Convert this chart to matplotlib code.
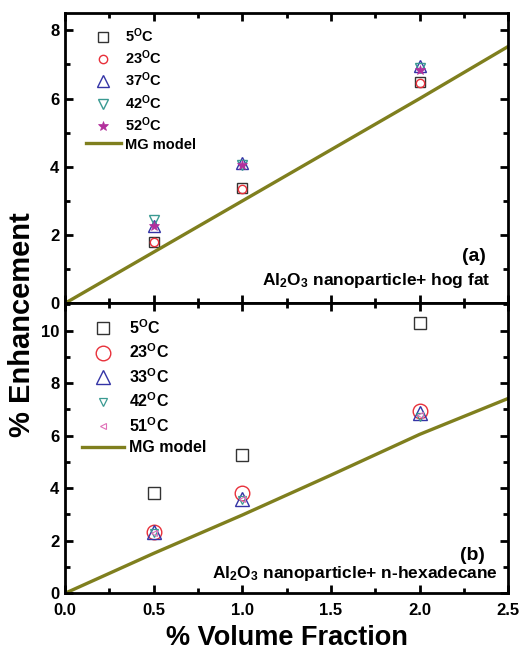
import matplotlib
matplotlib.use("Agg")
import matplotlib.pyplot as plt
from matplotlib.ticker import MultipleLocator

plt.rcParams['font.family'] = ['Liberation Sans', 'DejaVu Sans']
plt.rcParams['font.weight'] = 'bold'
plt.rcParams['mathtext.fontset'] = 'custom'
plt.rcParams['mathtext.rm'] = 'Liberation Sans:bold'
plt.rcParams['mathtext.bf'] = 'Liberation Sans:bold'
plt.rcParams['mathtext.it'] = 'Liberation Sans:bold'
plt.rcParams['mathtext.default'] = 'regular'

# ---- data ----
phi = [0.5, 1.0, 2.0]
mg_x = [0.0, 0.5, 1.0, 1.5, 2.0, 2.5]

# panel (a): Al2O3 + hog fat
a_labels = ['5$^\\mathrm{O}$C', '23$^\\mathrm{O}$C', '37$^\\mathrm{O}$C', '42$^\\mathrm{O}$C', '52$^\\mathrm{O}$C']
a_5 = [1.81, 3.37, 6.50]
a_23 = [1.80, 3.35, 6.45]
a_37 = [2.28, 4.11, 6.96]
a_42 = [2.45, 4.06, 6.90]
a_52 = [2.28, 4.04, 6.83]
a_mg = [0.0, 1.5, 3.0, 4.5, 6.0, 7.53]

# panel (b): Al2O3 + n-hexadecane
b_labels = ['5$^\\mathrm{O}$C', '23$^\\mathrm{O}$C', '33$^\\mathrm{O}$C', '42$^\\mathrm{O}$C', '51$^\\mathrm{O}$C']
b_5 = [3.83, 5.25, 10.28]
b_23 = [2.35, 3.83, 6.95]
b_33 = [2.33, 3.59, 6.85]
b_42 = [2.30, 3.55, 6.72]
b_51 = [2.30, 3.60, 6.80]
b_mg = [0.0, 1.52, 2.98, 4.5, 6.05, 7.42]

xticks = [0.0, 0.5, 1.0, 1.5, 2.0, 2.5]

c_sq = '#333333'
c_ci = '#e8303a'
c_tu = '#3434a6'
c_td = '#3a9a92'
c_st = '#b2309c'
c_lt = '#e070b8'
c_mg = '#7f7f1e'

W, H = 521, 650
fig = plt.figure(figsize=(W / 100, H / 100), dpi=100)
L, R = 65 / W, 508.3 / W
ax1 = fig.add_axes([L, 1 - 303.3 / H, R - L, (303.3 - 13.3) / H])
ax2 = fig.add_axes([L, 1 - 593.3 / H, R - L, (593.3 - 303.3) / H])

# panel (a)
ax1.plot(phi, a_5, ls='none', marker='s', ms=7.2, mfc='none', mec=c_sq, mew=1.0, label=a_labels[0])
ax1.plot(phi, a_23, ls='none', marker='o', ms=6.0, mfc='none', mec=c_ci, mew=1.0, label=a_labels[1])
ax1.plot(phi, a_37, ls='none', marker='^', ms=8.0, mfc='none', mec=c_tu, mew=1.0, label=a_labels[2])
ax1.plot(phi, a_42, ls='none', marker='v', ms=7.0, mfc='none', mec=c_td, mew=1.0, label=a_labels[3])
ax1.plot(phi, a_52, ls='none', marker='*', ms=7.0, mfc=c_st, mec=c_st, mew=0.5, label=a_labels[4])
ax1.plot(mg_x, a_mg, color=c_mg, lw=2.4, label='MG model')

# panel (b)
ax2.plot(phi, b_5, ls='none', marker='s', ms=8.8, mfc='none', mec=c_sq, mew=1.0, label=b_labels[0])
ax2.plot(phi, b_23, ls='none', marker='o', ms=10.5, mfc='none', mec=c_ci, mew=1.0, label=b_labels[1])
ax2.plot(phi, b_33, ls='none', marker='^', ms=9.5, mfc='none', mec=c_tu, mew=1.0, label=b_labels[2])
ax2.plot(phi, b_42, ls='none', marker='v', ms=6.0, mfc='none', mec=c_td, mew=0.9, label=b_labels[3])
ax2.plot(phi, b_51, ls='none', marker='<', ms=4.5, mfc='none', mec=c_lt, mew=0.8, label=b_labels[4])
ax2.plot(mg_x, b_mg, color=c_mg, lw=2.4, label='MG model')

for ax, ylim, ymaj in ((ax1, (0, 8.5), 2), (ax2, (0, 11.04), 2)):
    ax.set_xlim(0, 2.5)
    ax.set_ylim(*ylim)
    ax.xaxis.set_major_locator(MultipleLocator(0.5))
    ax.xaxis.set_minor_locator(MultipleLocator(0.25))
    ax.yaxis.set_major_locator(MultipleLocator(ymaj))
    ax.yaxis.set_minor_locator(MultipleLocator(1))
    ax.tick_params(which='both', direction='in', top=True, right=True, width=2.0)
    ax.tick_params(which='major', length=6, labelsize=12, pad=4)
    ax.tick_params(which='minor', length=3.5)
    for s in ax.spines.values():
        s.set_linewidth(2.0)
    for lab in ax.get_xticklabels() + ax.get_yticklabels():
        lab.set_fontweight('bold')

ax1.tick_params(axis='x', labelbottom=False)
ax2.set_xticks(xticks)
ax2.set_xticklabels(['%.1f' % v for v in xticks], fontweight='bold')
ax2.tick_params(axis='x', which='major', pad=7)

leg1 = ax1.legend(loc='upper left', bbox_to_anchor=(0.040, 0.965), frameon=False,
                  fontsize=10.5, handlelength=2.4, handletextpad=0.3,
                  labelspacing=0.25, borderaxespad=0.0, borderpad=0.2)
leg2 = ax2.legend(loc='upper left', bbox_to_anchor=(0.032, 0.960), frameon=False,
                  fontsize=11.5, handlelength=2.6, handletextpad=0.3,
                  labelspacing=0.36, borderaxespad=0.0, borderpad=0.2)
for leg in (leg1, leg2):
    for t in leg.get_texts():
        t.set_fontweight('bold')

ax1.text(0.950, 0.160, '(a)', transform=ax1.transAxes, ha='right', va='center',
         fontsize=14, fontweight='bold')
ax1.text(0.959, 0.080, 'Al$_2$O$_3$ nanoparticle+ hog fat', transform=ax1.transAxes,
         ha='right', va='center', fontsize=12.5, fontweight='bold')
ax2.text(0.947, 0.132, '(b)', transform=ax2.transAxes, ha='right', va='center',
         fontsize=14, fontweight='bold')
ax2.text(0.977, 0.067, 'Al$_2$O$_3$ nanoparticle+ n-hexadecane', transform=ax2.transAxes,
         ha='right', va='center', fontsize=12.5, fontweight='bold')

fig.text(286.6 / W, 1 - 638 / H, '% Volume Fraction', ha='center', va='center',
         fontsize=19.5, fontweight='bold')
fig.text(22 / W, 1 - 325 / H, '% Enhancement', ha='center', va='center',
         rotation=90, fontsize=21, fontweight='bold')

fig.savefig('out.png', dpi=100)
